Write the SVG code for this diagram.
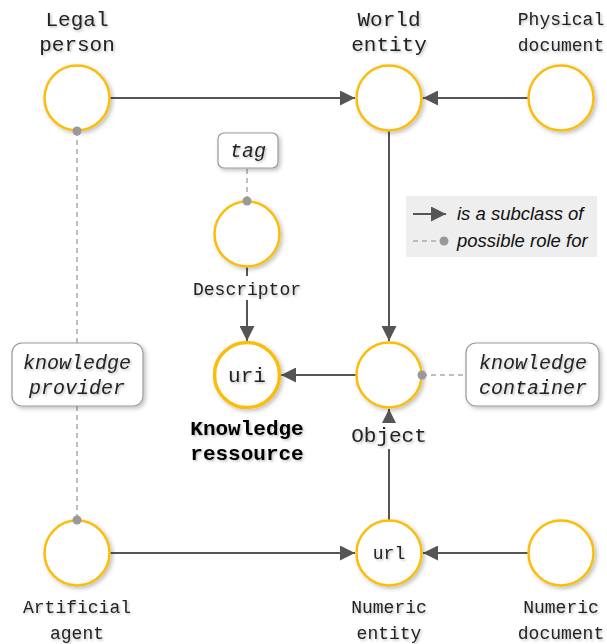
<svg xmlns="http://www.w3.org/2000/svg" width="607" height="644" viewBox="0 0 607 644">
<defs>
<filter id="sh" x="-30%" y="-30%" width="160%" height="160%">
<feDropShadow dx="2" dy="2" stdDeviation="2" flood-color="#000" flood-opacity="0.25"/>
</filter>
<filter id="tsh" x="-10%" y="-30%" width="120%" height="160%">
<feDropShadow dx="1.5" dy="1.5" stdDeviation="1" flood-color="#000" flood-opacity="0.25"/>
</filter>
<marker id="arr" viewBox="0 0 10 10" refX="10" refY="5" markerWidth="7.5" markerHeight="7.5" markerUnits="strokeWidth" orient="auto">
<path d="M0,0 L10,5 L0,10 z" fill="#555"/>
</marker>
</defs>
<style>
.node circle{fill:#fff;stroke:#fbbd0c;stroke-width:2.5;filter:url(#sh)}
.lbl{font-family:"Liberation Mono","Courier New",monospace;font-size:18px;fill:#222;text-anchor:middle;filter:url(#tsh)}
.big{font-size:21px}
.it{font-style:italic;font-size:20px}
.bd{font-weight:bold;fill:#000;font-size:21px}
.bg{fill:#fff}
.box rect{fill:#fff;stroke:#999;stroke-width:1.2;filter:url(#sh)}
.sub{stroke:#555;stroke-width:2;fill:none;marker-end:url(#arr)}
.role{stroke:#aaa;stroke-width:1.5;stroke-dasharray:5,4;fill:none}
.dot{fill:#999}
.leg{font-family:"Liberation Sans",Arial,sans-serif;font-size:18.5px;font-style:italic;fill:#111}
</style>

<g id="legend">
<rect x="406" y="196" width="191" height="61" fill="#eeeeee"/>
<line x1="413" y1="214" x2="446" y2="214" class="sub"/>
<text x="457" y="220" class="leg">is a subclass of</text>
<line x1="413" y1="241" x2="440" y2="241" class="role"/>
<circle cx="444" cy="241" r="4.5" class="dot"/>
<text x="457" y="247" class="leg">possible role for</text>
</g>

<g id="connectors">
<line x1="110" y1="98" x2="355" y2="98" class="sub"/>
<line x1="528" y1="98" x2="423" y2="98" class="sub"/>
<line x1="389" y1="131" x2="389" y2="341" class="sub"/>
<line x1="247" y1="267" x2="247" y2="341" class="sub"/>
<line x1="356" y1="375" x2="281" y2="375" class="sub"/>
<line x1="389" y1="520" x2="389" y2="409" class="sub"/>
<line x1="110" y1="553" x2="355" y2="553" class="sub"/>
<line x1="528" y1="553" x2="423" y2="553" class="sub"/>
<line x1="77" y1="131" x2="77" y2="343" class="role"/>
<line x1="77" y1="406" x2="77" y2="520" class="role"/>
<line x1="247" y1="201" x2="247" y2="168" class="role"/>
<line x1="422" y1="375" x2="466" y2="375" class="role"/>
</g>

<g id="legal-person" class="node">
<circle cx="77" cy="98" r="32.5"/>
<text x="77" y="26" class="lbl big">Legal</text>
<text x="77" y="51" class="lbl big">person</text>
</g>
<g id="world-entity" class="node">
<circle cx="389" cy="98" r="32.5"/>
<text x="389" y="26" class="lbl big">World</text>
<text x="389" y="51" class="lbl big">entity</text>
</g>
<g id="physical-document" class="node">
<circle cx="561" cy="98" r="32.5"/>
<text x="561" y="25" class="lbl">Physical</text>
<text x="561" y="51" class="lbl">document</text>
</g>
<g id="descriptor" class="node">
<circle cx="247" cy="234" r="32.5"/>
<rect x="192" y="276" width="112" height="24" class="bg"/>
<text x="247" y="295" class="lbl">Descriptor</text>
</g>
<g id="knowledge-ressource" class="node">
<circle cx="247" cy="375" r="32.5" style="stroke-width:3.5"/>
<text x="247" y="382" class="lbl big">uri</text>
<text x="247" y="435" class="lbl bd">Knowledge</text>
<text x="247" y="460" class="lbl bd">ressource</text>
</g>
<g id="object" class="node">
<circle cx="389" cy="375" r="32.5"/>
<rect x="348" y="423" width="82" height="26" class="bg"/>
<text x="389" y="442" class="lbl big">Object</text>
</g>
<g id="artificial-agent" class="node">
<circle cx="77" cy="553" r="32.5"/>
<text x="77" y="613" class="lbl">Artificial</text>
<text x="77" y="639" class="lbl">agent</text>
</g>
<g id="numeric-entity" class="node">
<circle cx="389" cy="553" r="32.5"/>
<text x="389" y="559" class="lbl">url</text>
<text x="389" y="613" class="lbl">Numeric</text>
<text x="389" y="639" class="lbl">entity</text>
</g>
<g id="numeric-document" class="node">
<circle cx="561" cy="553" r="32.5"/>
<text x="561" y="613" class="lbl">Numeric</text>
<text x="561" y="639" class="lbl">document</text>
</g>

<g id="tag" class="box">
<rect x="218" y="133" width="60" height="35" rx="6"/>
<text x="248" y="157" class="lbl it">tag</text>
</g>
<g id="knowledge-provider" class="box">
<rect x="12" y="343" width="131" height="63" rx="10"/>
<text x="77" y="369" class="lbl it">knowledge</text>
<text x="77" y="394" class="lbl it">provider</text>
</g>
<g id="knowledge-container" class="box">
<rect x="466" y="343" width="133" height="63" rx="10"/>
<text x="533" y="369" class="lbl it">knowledge</text>
<text x="533" y="394" class="lbl it">container</text>
</g>

<g id="role-dots">
<circle cx="77" cy="131" r="4.5" class="dot"/>
<circle cx="77" cy="520" r="4.5" class="dot"/>
<circle cx="247" cy="201" r="4.5" class="dot"/>
<circle cx="422" cy="375" r="4.5" class="dot"/>
</g>
</svg>
